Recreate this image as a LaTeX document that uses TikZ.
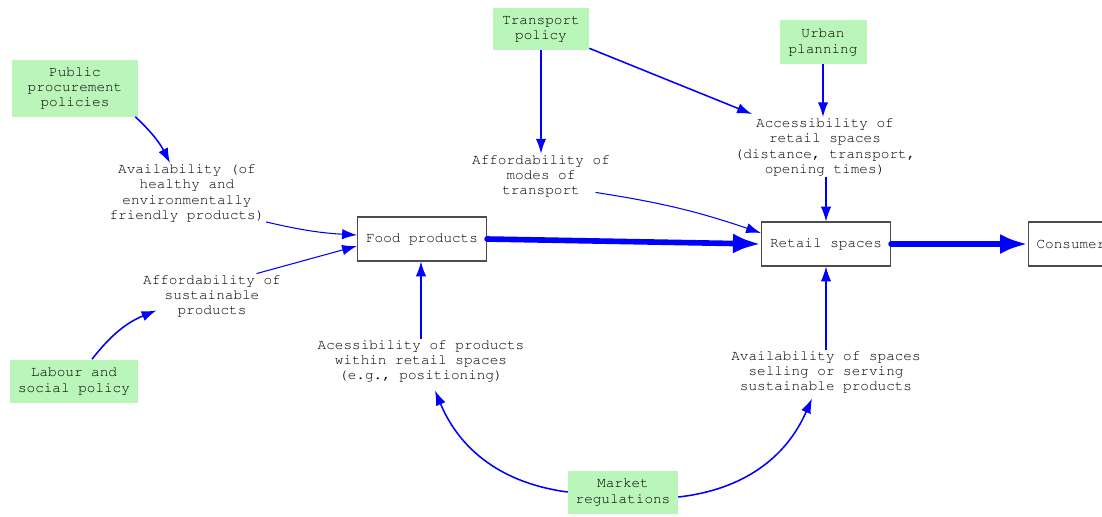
\documentclass[tikz,border=0pt]{standalone}
\usepackage[T1]{fontenc}
\usepackage{courier}
\usetikzlibrary{arrows.meta,positioning,calc}
\definecolor{policygreen}{RGB}{186,246,186}

\begin{document}
\begin{tikzpicture}[x=0.025cm, y=-0.025cm,
    every node/.style={font=\ttfamily\fontsize{10.2}{10.7}\selectfont, align=center},
    policy/.style={fill=policygreen, inner sep=0pt},
    factor/.style={inner sep=1pt},
    stock/.style={draw=black!70, line width=0.8pt, minimum width=3.225cm, minimum height=1.1cm, inner sep=0pt},
    link/.style={-{Latex[length=0.37cm,width=0.26cm]}, blue, line width=1.1pt},
    thinlink/.style={link, line width=0.75pt},
    flow/.style={-{Latex[length=0.7cm,width=0.5cm]}, blue, line width=4pt, line cap=round}]
    \useasboundingbox (0,0) rectangle (1102,516);

    % Policy boxes
    \node[policy, minimum width=3.15cm, minimum height=1.425cm] (pub) at (75,88) {Public\\procurement\\policies};
    \node[policy, minimum width=3.2cm, minimum height=1.075cm] (lab) at (74,381) {Labour and\\social policy};
    \node[policy, minimum width=2.4cm, minimum height=1.05cm] (trans) at (541,29) {Transport\\policy};
    \node[policy, minimum width=2.175cm, minimum height=1.1cm] (urban) at (823,42) {Urban\\planning};
    \node[policy, minimum width=2.75cm, minimum height=1.075cm] (market) at (623,492) {Market\\regulations};

    % Factors
    \node[factor] (avail) at (187,193) {Availability (of\\healthy and\\environmentally\\friendly products)};
    \node[factor] (affs) at (212,296) {Affordability of\\sustainable\\products};
    \node[factor] (affm) at (541,176) {Affordability of\\modes of\\transport};
    \node[factor] (accr) at (825,147) {Accessibility of\\retail spaces\\(distance, transport,\\opening times)};
    \node[factor] (accp) at (421,361) {Acessibility of products\\within retail spaces\\(e.g., positioning)};
    \node[factor] (avsp) at (826,372) {Availability of spaces\\selling or serving\\sustainable products};

    % Stocks
    \node[stock] (food) at (422,239) {Food products};
    \node[stock] (retail) at (826,244) {Retail spaces};
    \node[stock, minimum width=0pt, anchor=west, inner xsep=0.2cm] (cons) at (1028,244) {Consumers};

    % Policy links
    \draw[link] ($(pub.south east)+(-3,0)$) to[bend left=10] ($(avail.north)+(-17,0)$);
    \draw[link] ($(lab.north)+(18,0)$) to[bend left=15] ($(affs.south west)+(15,-8)$);
    \draw[link] (trans.south) -- (trans.south |- affm.north);
    \draw[link] ($(trans.south east)+(0,-2)$) -- ($(accr.north west)+(19,-3)$);
    \draw[link] (urban.south) -- (urban.south |- accr.north);
    \draw[link] (market.west) to[bend left=30] ($(accp.south)+(14,7)$);
    \draw[link] ($(market.east)+(0,5)$) to[bend right=30] ($(avsp.south)+(-14,4)$);

    % Factor links
    \draw[thinlink] ($(avail.south east)+(0,-1)$) to[bend right=5] ($(food.west)+(0,-4)$);
    \draw[thinlink] ($(affs.north east)+(-26,0)$) -- ($(food.west)+(0,7)$);
    \draw[thinlink] ($(affm.south east)+(-16,-6)$) to[bend left=5] ($(retail.west)+(0,-11)$);
    \draw[thinlink] (retail.north |- accr.south) -- (retail.north);
    \draw[thinlink] (accp.north) -- (accp.north |- food.south);
    \draw[thinlink] (retail.south |- avsp.north) -- (retail.south);

    % Flows
    \draw[flow] (food.east) -- (retail.west);
    \draw[flow] (retail.east) -- (cons.west);
\end{tikzpicture}
\end{document}
